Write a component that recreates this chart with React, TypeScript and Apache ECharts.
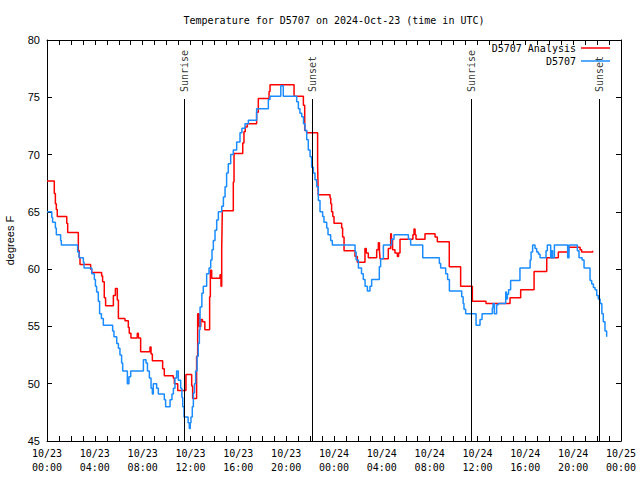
import React, { useEffect, useRef } from "react";
import * as echarts from "echarts";

// Hours since 2024-10-23 00:00 UTC and temperatures (deg F)
const obsTimes = [0.0, 0.4, 0.47, 0.7, 0.78, 1.14, 1.2, 2.56, 2.68, 3.04, 3.1, 3.74, 3.96, 4.05, 4.15, 4.29, 4.4, 4.55, 4.71, 5.49, 5.6, 5.83, 5.97, 6.1, 6.24, 6.33, 6.72, 6.85, 7.0, 8.06, 8.28, 8.4, 8.56, 8.7, 8.81, 8.89, 9.17, 9.31, 9.81, 9.92, 10.29, 10.45, 10.57, 10.7, 10.84, 10.98, 11.18, 11.28, 11.35, 11.46, 11.8, 11.9, 11.98, 12.04, 12.15, 12.24, 12.33, 12.43, 12.55, 12.65, 12.74, 12.8, 12.95, 13.07, 13.35, 13.55, 13.69, 13.8, 13.91, 14.05, 14.19, 14.33, 14.61, 14.75, 14.89, 15.02, 15.16, 15.36, 15.58, 15.86, 16.14, 16.3, 16.56, 16.84, 17.53, 18.51, 18.65, 19.55, 19.76, 20.88, 21.02, 21.15, 21.3, 21.45, 21.58, 21.72, 21.85, 22.0, 22.13, 22.27, 22.41, 22.55, 22.69, 22.83, 23.05, 23.16, 23.39, 23.5, 23.72, 23.86, 25.76, 25.85, 26.04, 26.3, 26.45, 26.6, 26.79, 27.01, 27.15, 27.79, 27.9, 28.13, 28.82, 29.02, 30.22, 30.41, 31.42, 32.81, 32.92, 33.34, 33.5, 33.65, 34.68, 34.8, 34.87, 35.01, 35.88, 36.21, 36.38, 37.24, 37.3, 37.41, 37.6, 37.74, 38.36, 38.42, 38.5, 38.6, 38.77, 39.55, 40.4, 40.48, 40.61, 40.81, 40.95, 41.1, 41.23, 41.73, 41.84, 42.12, 42.2, 42.28, 42.43, 43.54, 43.65, 44.35, 44.49, 44.75, 44.91, 45.41, 45.55, 45.69, 45.83, 45.97, 46.1, 46.25, 46.4, 46.52, 46.66, 46.8];
const obsTemps = [65.0, 64.5, 64.1, 63.6, 63.0, 62.5, 62.1, 61.5, 61.0, 60.6, 60.1, 59.6, 59.1, 58.5, 58.0, 57.2, 56.1, 55.7, 55.1, 54.6, 54.1, 53.5, 53.1, 52.5, 51.8, 51.1, 50.0, 50.6, 51.1, 52.1, 51.8, 51.1, 50.5, 49.6, 49.1, 50.0, 49.6, 49.1, 48.6, 48.0, 48.6, 49.1, 49.6, 50.5, 51.1, 50.3, 49.6, 48.8, 48.0, 47.1, 46.6, 46.1, 46.6, 47.1, 48.0, 49.2, 50.0, 51.1, 52.4, 53.5, 54.7, 56.7, 57.9, 58.5, 59.6, 60.1, 60.8, 61.7, 62.5, 63.4, 64.3, 65.0, 65.5, 66.3, 67.2, 68.4, 69.2, 70.0, 70.4, 71.1, 71.9, 72.3, 72.7, 73.0, 74.0, 74.8, 75.1, 76.0, 75.1, 74.6, 74.0, 73.6, 73.3, 72.7, 72.1, 71.3, 70.4, 69.8, 68.9, 68.4, 67.8, 67.2, 66.0, 65.0, 64.6, 64.1, 63.6, 63.0, 62.5, 62.1, 61.5, 60.8, 60.1, 59.6, 59.1, 58.5, 58.1, 58.5, 59.1, 60.2, 60.9, 62.1, 62.6, 63.0, 62.6, 62.1, 61.0, 60.5, 60.1, 59.6, 59.1, 58.1, 57.6, 57.0, 56.5, 56.1, 55.1, 55.6, 56.1, 56.6, 57.0, 56.1, 56.9, 57.0, 58.0, 57.4, 57.8, 58.2, 59.0, 60.1, 60.8, 61.5, 62.1, 61.8, 61.5, 61.3, 61.0, 61.6, 62.1, 61.0, 61.6, 61.0, 62.1, 61.0, 62.1, 61.6, 61.0, 60.8, 60.1, 59.0, 58.7, 58.4, 58.2, 57.7, 57.4, 57.0, 56.1, 55.4, 54.6, 54.1];

const anaTimes = [0.0, 0.61, 0.7, 0.78, 0.86, 1.65, 1.73, 2.62, 2.7, 2.76, 3.65, 3.74, 4.57, 4.65, 4.79, 4.9, 5.55, 5.72, 5.88, 5.97, 6.52, 6.8, 6.88, 7.02, 7.55, 7.64, 7.83, 8.61, 8.7, 8.81, 9.67, 9.81, 10.56, 10.65, 10.93, 11.62, 12.1, 12.18, 12.51, 12.6, 12.72, 12.86, 13.0, 13.2, 13.6, 13.66, 13.77, 14.47, 14.55, 14.61, 14.66, 15.58, 15.64, 16.37, 16.47, 16.58, 16.75, 17.53, 17.67, 18.57, 18.65, 20.66, 21.44, 21.55, 21.71, 22.63, 22.68, 23.67, 23.73, 23.8, 23.9, 24.0, 24.64, 24.72, 24.84, 25.76, 25.95, 26.59, 26.7, 26.87, 27.57, 27.71, 27.8, 27.85, 28.54, 28.74, 28.8, 28.9, 29.1, 29.3, 29.4, 29.52, 30.6, 30.69, 30.78, 30.86, 31.61, 32.45, 32.64, 33.64, 34.59, 35.57, 36.71, 38.72, 39.61, 40.73, 41.79, 42.76, 43.62, 44.58, 44.71, 45.63];
const anaTemps = [67.7, 66.6, 65.7, 65.2, 64.6, 64.0, 63.2, 61.6, 61.0, 60.4, 60.0, 59.7, 59.4, 58.9, 57.5, 56.8, 57.7, 58.3, 57.3, 55.7, 55.5, 54.9, 54.4, 54.0, 54.4, 54.0, 52.8, 53.2, 52.6, 52.0, 51.3, 50.7, 50.5, 50.0, 49.4, 50.8, 49.8, 48.7, 52.4, 56.1, 55.0, 55.6, 55.4, 54.7, 57.6, 59.9, 59.2, 59.5, 58.5, 61.7, 65.1, 67.6, 70.1, 71.0, 72.0, 72.4, 72.7, 73.7, 74.9, 75.5, 76.1, 75.1, 74.3, 72.1, 71.9, 69.1, 66.5, 66.2, 65.7, 65.0, 64.6, 64.0, 63.6, 62.8, 61.6, 61.1, 60.6, 61.8, 61.4, 61.0, 61.7, 62.3, 61.6, 60.9, 61.8, 63.1, 62.6, 61.7, 61.4, 61.1, 61.4, 62.6, 63.0, 63.5, 63.0, 62.6, 63.1, 62.8, 62.4, 60.2, 58.5, 57.2, 57.0, 57.5, 58.2, 59.8, 61.0, 61.5, 61.9, 61.7, 61.5, 61.6];

const sunTimes = [11.46, 22.2, 35.5, 46.19];
const sunLabels = ["Sunrise", "Sunset", "Sunrise", "Sunset"];

const tickDates = ["10/23", "10/23", "10/23", "10/23", "10/23", "10/23", "10/24", "10/24", "10/24", "10/24", "10/24", "10/24", "10/25"];
const tickTimes = ["00:00", "04:00", "08:00", "12:00", "16:00", "20:00", "00:00", "04:00", "08:00", "12:00", "16:00", "20:00", "00:00"];

const MONO = "'DejaVu Sans Mono', monospace";
const SANS = "'Liberation Sans', Arial, sans-serif";

export default function App() {
  const ref = useRef<HTMLDivElement>(null);
  useEffect(() => {
    if (!ref.current) return;
    const chart = echarts.init(ref.current, null, { renderer: "svg" });
    const zip = (a: number[], b: number[]) => a.map((t, i) => [t, b[i]]);
    const axisLine = { show: true, onZero: false, lineStyle: { color: "#000", width: 1 } };
    chart.setOption({
      animation: false,
      backgroundColor: "#fff",
      graphic: [
        {
          type: "text",
          x: 334,
          y: 20,
          style: {
            text: "Temperature for D5707 on 2024-Oct-23 (time in UTC)",
            font: `10px ${MONO}`,
            fill: "#000",
            textAlign: "center",
            textVerticalAlign: "middle",
          },
        },
      ],
      legend: [
        {
          data: ["D5707 Analysis"],
          right: 30,
          top: 43,
          padding: 0,
          align: "right",
          icon: "rect",
          itemWidth: 29,
          itemHeight: 1.5,
          textStyle: { fontFamily: MONO, fontSize: 10, color: "#000" },
        },
        {
          data: ["D5707"],
          right: 30,
          top: 56,
          padding: 0,
          align: "right",
          icon: "rect",
          itemWidth: 29,
          itemHeight: 1.5,
          textStyle: { fontFamily: MONO, fontSize: 10, color: "#000" },
        },
      ],
      grid: { left: 47, right: 19, top: 40, bottom: 39, containLabel: false, outerBoundsMode: "none" },
      xAxis: [
        {
          type: "value",
          min: 0,
          max: 48,
          interval: 4,
          axisLine,
          axisTick: { show: true, inside: true, length: 5, lineStyle: { color: "#000" } },
          minorTick: { show: true, splitNumber: 4, length: 5, lineStyle: { color: "#000" } },
          splitLine: { show: false },
          axisLabel: {
            margin: 5,
            fontFamily: MONO,
            fontSize: 10,
            lineHeight: 14,
            color: "#000",
            formatter: (v: number) => {
              const i = Math.round(v / 4);
              return `${tickDates[i]}\n${tickTimes[i]}`;
            },
          },
        },
        {
          type: "value",
          position: "top",
          min: 0,
          max: 48,
          interval: 4,
          axisLine,
          axisTick: { show: true, inside: true, length: 5, lineStyle: { color: "#000" } },
          minorTick: { show: true, splitNumber: 4, length: 5, lineStyle: { color: "#000" } },
          splitLine: { show: false },
          axisLabel: { show: false },
        },
      ],
      yAxis: [
        {
          type: "value",
          min: 45,
          max: 80,
          interval: 5,
          name: "degrees F",
          nameLocation: "middle",
          nameGap: 32,
          nameTextStyle: { fontFamily: SANS, fontSize: 11, color: "#000" },
          axisLine,
          axisTick: { show: true, inside: true, length: 5, lineStyle: { color: "#000" } },
          splitLine: { show: false },
          axisLabel: { margin: 7, fontFamily: SANS, fontSize: 11, color: "#000" },
        },
        {
          type: "value",
          position: "right",
          min: 45,
          max: 80,
          interval: 5,
          axisLine,
          axisTick: { show: true, inside: true, length: 5, lineStyle: { color: "#000" } },
          splitLine: { show: false },
          axisLabel: { show: false },
        },
      ],
      series: [
        {
          name: "sun",
          type: "scatter",
          z: 1,
          symbolSize: 0.1,
          itemStyle: { color: "rgba(0,0,0,0)" },
          silent: true,
          data: sunTimes.map((t, i) => ({ value: [t, 75.46], name: sunLabels[i] })),
          label: {
            show: true,
            position: "inside",
            rotate: 90,
            align: "left",
            verticalAlign: "middle",
            fontFamily: MONO,
            fontSize: 10,
            color: "#000",
            formatter: (p: any) => p.name,
          },
          markLine: {
            silent: true,
            symbol: "none",
            label: { show: false },
            lineStyle: { color: "#000", width: 1, type: "solid" },
            data: sunTimes.map((t) => [{ coord: [t, 45] }, { coord: [t, 74.85] }]),
          },
        },
        {
          name: "D5707 Analysis",
          type: "line",
          z: 2,
          step: "end",
          showSymbol: false,
          symbol: "none",
          color: "#ff0000",
          lineStyle: { color: "#ff0000", width: 1.5 },
          data: zip(anaTimes, anaTemps),
        },
        {
          name: "D5707",
          type: "line",
          z: 3,
          step: "end",
          showSymbol: false,
          symbol: "none",
          color: "#1a8cff",
          lineStyle: { color: "#1a8cff", width: 1.5 },
          data: zip(obsTimes, obsTemps),
        },
      ],
    });
    return () => chart.dispose();
  }, []);
  return <div ref={ref} style={{ width: 640, height: 480, position: "absolute", left: 0, top: 0 }} />;
}
